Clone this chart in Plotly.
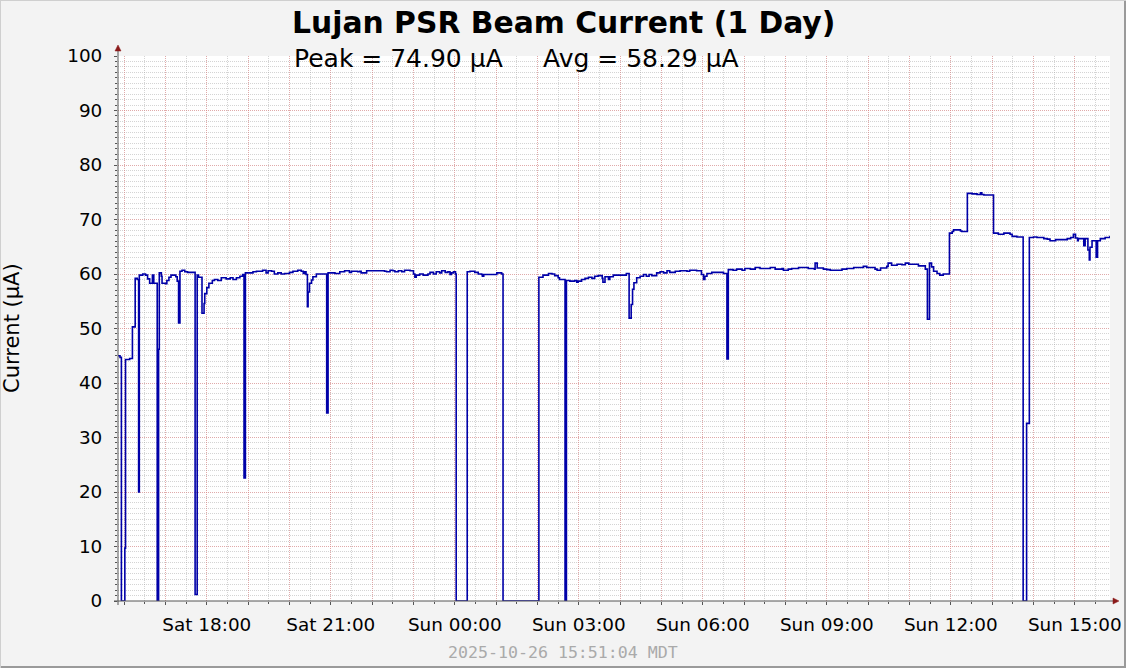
import pandas as pd
import plotly.graph_objects as go

# ---------------- data ----------------
sat = "2025-10-25 "
sun = "2025-10-26 "
timestamps = [sat + t for t in [
    "15:51", "15:54", "15:56", "16:01", "16:02", "16:08", "16:12", "16:16", "16:19", "16:21",
    "16:22", "16:27", "16:31", "16:34", "16:37", "16:41", "16:43", "16:48", "16:50", "16:51",
    "16:54", "16:55", "17:00", "17:02", "17:05", "17:08", "17:15", "17:17", "17:19", "17:21",
    "17:24", "17:28", "17:32", "17:43", "17:46", "17:48", "17:53", "17:56", "17:57", "18:00",
    "18:03", "18:08", "18:11", "18:16", "18:21", "18:28", "18:34", "18:38", "18:43", "18:48",
    "18:52", "18:54", "18:56", "19:07", "19:12", "19:21", "19:26", "19:29", "19:34", "19:38",
    "19:43", "19:48", "19:53", "20:00", "20:05", "20:12", "20:17", "20:20", "20:22", "20:24",
    "20:26", "20:27", "20:29", "20:32", "20:34", "20:39", "20:54", "20:56", "21:06", "21:13",
    "21:20", "21:27", "21:30", "21:39", "21:42", "21:44", "21:52", "22:18", "22:21", "22:26",
    "22:30", "22:33", "22:38", "22:43", "22:47", "22:55", "23:00", "23:02", "23:04", "23:09",
    "23:14", "23:21", "23:24", "23:29", "23:33", "23:38", "23:41", "23:46", "23:50", "23:53",
    "23:55", "23:58"]] + [sun + t for t in [
    "00:01", "00:02", "00:18", "00:22", "00:29", "00:34", "00:39", "00:40", "00:42", "01:01",
    "01:08", "01:10", "02:02", "02:08", "02:16", "02:21", "02:25", "02:30", "02:32", "02:40",
    "02:42", "02:47", "02:54", "02:57", "02:59", "03:04", "03:09", "03:14", "03:19", "03:23",
    "03:28", "03:34", "03:35", "03:38", "03:43", "03:45", "03:50", "04:09", "04:13", "04:16",
    "04:18", "04:20", "04:24", "04:29", "04:34", "04:38", "04:42", "04:46", "04:53", "04:58",
    "05:03", "05:08", "05:12", "05:20", "05:27", "05:37", "05:41", "05:51", "05:58", "06:01",
    "06:03", "06:06", "06:13", "06:30", "06:35", "06:37", "06:44", "06:49", "06:57", "07:01",
    "07:09", "07:16", "07:23", "07:38", "07:45", "07:55", "07:57", "08:04", "08:09", "08:19",
    "08:33", "08:42", "08:43", "08:46", "08:55", "09:00", "09:05", "09:22", "09:29", "09:39",
    "09:53", "09:58", "10:10", "10:13", "10:18", "10:27", "10:29", "10:34", "10:42", "10:49",
    "10:54", "10:59", "11:13", "11:23", "11:26", "11:29", "11:32", "11:35", "11:40", "11:44",
    "11:49", "11:58", "12:02", "12:04", "12:14", "12:16", "12:24", "12:31", "12:38", "12:43",
    "12:45", "12:48", "13:02", "13:09", "13:17", "13:26", "13:29", "13:36", "13:45", "13:50",
    "13:54", "14:00", "14:05", "14:15", "14:20", "14:24", "14:32", "14:49", "14:54", "14:58",
    "15:01", "15:04", "15:05", "15:13", "15:15", "15:19", "15:21", "15:22", "15:25", "15:31",
    "15:33", "15:37", "15:44", "15:51"]]

current_uA = [
    45.0, 44.7, 0.0, 9.7, 44.3, 44.5, 50.3, 59.2, 59.0, 20.0,
    59.8, 60.0, 59.8, 59.1, 58.3, 59.8, 58.3, 0.0, 46.2, 60.2,
    59.6, 58.3, 58.2, 58.8, 59.4, 59.8, 59.5, 58.7, 51.0, 60.5,
    60.7, 60.4, 60.3, 1.2, 59.8, 59.4, 52.8, 54.6, 56.4, 57.5,
    58.3, 58.8, 59.0, 58.8, 59.3, 59.1, 59.3, 59.0, 59.3, 59.6,
    59.9, 22.6, 60.2, 60.4, 60.5, 60.7, 60.2, 60.6, 60.5, 60.0,
    60.2, 60.0, 60.1, 60.3, 60.5, 60.7, 60.5, 60.1, 60.4, 59.9,
    54.0, 56.7, 58.3, 58.9, 59.5, 60.0, 34.5, 60.2, 60.1, 60.4,
    60.6, 60.3, 60.5, 60.4, 60.5, 60.2, 60.6, 60.5, 60.4, 60.7,
    60.6, 60.4, 60.6, 60.4, 60.7, 60.6, 60.0, 59.4, 59.8, 60.0,
    59.8, 60.0, 60.3, 60.0, 60.4, 60.2, 60.6, 60.3, 60.4, 59.9,
    60.2, 60.4,
    60.0, 0.0, 60.4, 60.5, 60.3, 60.0, 59.9, 59.6, 59.9, 60.2,
    60.0, 0.0, 59.4, 59.8, 60.1, 60.0, 59.7, 59.3, 59.0, 0.0,
    58.8, 58.7, 58.8, 58.5, 58.7, 59.0, 59.2, 59.4, 59.2, 59.6,
    59.7, 59.2, 58.5, 59.5, 59.0, 59.5, 59.8, 60.1, 51.9, 54.4,
    57.2, 58.4, 59.3, 59.6, 59.9, 59.6, 59.9, 59.7, 60.2, 60.4,
    60.2, 60.6, 60.3, 60.5, 60.6, 60.5, 60.7, 60.6, 59.9, 59.0,
    59.6, 60.1, 60.3, 60.1, 44.4, 60.8, 60.7, 60.9, 60.7, 61.0,
    60.9, 61.2, 61.0, 61.2, 60.9, 61.0, 60.7, 60.9, 61.0, 61.2,
    61.0, 60.9, 62.0, 61.1, 60.9, 60.8, 60.7, 60.9, 61.0, 61.2,
    61.4, 61.2, 60.9, 60.7, 61.1, 61.4, 62.0, 61.6, 61.8, 61.7,
    62.0, 61.8, 61.5, 60.9, 51.7, 62.0, 61.3, 60.5, 60.1, 59.8,
    60.0, 67.5, 67.8, 68.1, 67.9, 67.8, 74.8, 74.7, 74.6, 74.9,
    74.6, 74.5, 67.5, 67.3, 67.5, 67.3, 66.9, 66.8, 0.0, 32.6,
    66.7, 66.8, 66.7, 66.5, 66.4, 66.1, 66.3, 66.5, 66.7, 67.3,
    66.6, 66.1, 66.5, 65.2, 66.5, 64.4, 62.6, 64.9, 66.1, 63.1,
    66.1, 66.5, 66.7, 67.0]

title_text = "Lujan PSR Beam Current (1 Day)"
peak_uA = 74.90
avg_uA = 58.29
y_title = "Current (µA)"
stamp_text = "2025-10-26 15:51:04 MDT"
x_start = "2025-10-25 15:51:04"
x_end = "2025-10-26 15:51:04"
x_label_times = ["2025-10-25 18:00", "2025-10-25 21:00", "2025-10-26 00:00", "2025-10-26 03:00",
                 "2025-10-26 06:00", "2025-10-26 09:00", "2025-10-26 12:00", "2025-10-26 15:00"]
x_labels = ["Sat 18:00", "Sat 21:00", "Sun 00:00", "Sun 03:00",
            "Sun 06:00", "Sun 09:00", "Sun 12:00", "Sun 15:00"]
y_tick_values = [0, 10, 20, 30, 40, 50, 60, 70, 80, 90, 100]

# ---------------- layout geometry ----------------
W, H = 1126, 668
L, R, T, B = 118, 16, 56, 67
PW, PH = W - L - R, H - T - B


def px2x(px):
    return (px - L) / PW


def py2y(py):
    return (H - B - py) / PH


FONT = "DejaVu Sans"
BG = "#f3f3f3"
MAJOR = "rgba(240,120,120,0.45)"
MINOR = "rgba(160,160,160,0.45)"
DOTS = "1px,1px"
AXIS = "#555555"
ARROW = "#8b1a1a"
LINE = "#0000a8"

# hourly major grid, labels every 3 hours
hours = pd.date_range("2025-10-25 16:00", "2025-10-26 15:00", freq="1h")
label_map = {pd.Timestamp(t): s for t, s in zip(x_label_times, x_labels)}
tickvals = [h.strftime("%Y-%m-%d %H:%M") for h in hours]
ticktext = [label_map.get(h, "") for h in hours]

fig = go.Figure()
fig.add_trace(go.Scatter(
    x=pd.to_datetime(timestamps), y=current_uA, mode="lines",
    line=dict(color=LINE, width=1.6, shape="hv"),
    hoverinfo="x+y", showlegend=False))

fig.update_layout(
    width=W, height=H, autosize=False,
    margin=dict(l=L, r=R, t=T, b=B, pad=0, autoexpand=False),
    paper_bgcolor=BG, plot_bgcolor="white",
    font=dict(family=FONT, size=18, color="black"),
    showlegend=False,
    xaxis=dict(
        type="date", range=[x_start, x_end], automargin=False,
        tickmode="array", tickvals=tickvals, ticktext=ticktext,
        showgrid=True, gridcolor=MAJOR, griddash=DOTS, gridwidth=1,
        ticks="outside", ticklen=3, tickcolor=AXIS, tickwidth=1,
        ticklabelstandoff=4,
        tickfont=dict(family=FONT, size=18.4, color="black"),
        showline=False, zeroline=False,
        minor=dict(dtick=1800000, tick0="2025-10-25 16:00", showgrid=True,
                   gridcolor=MINOR, griddash=DOTS, gridwidth=1,
                   ticks="outside", ticklen=2, tickcolor=AXIS),
    ),
    yaxis=dict(
        range=[0, 100], tickmode="array", tickvals=y_tick_values, automargin=False,
        showgrid=True, gridcolor=MAJOR, griddash=DOTS, gridwidth=1,
        ticks="outside", ticklen=3, tickcolor=AXIS, tickwidth=1,
        ticklabelstandoff=8,
        tickfont=dict(family=FONT, size=18.4, color="black"),
        showline=False, zeroline=False,
        minor=dict(dtick=1, showgrid=True, gridcolor=MINOR, griddash=DOTS,
                   gridwidth=1, ticks="outside", ticklen=2, tickcolor=AXIS),
    ),
)

shapes = [
    # axis lines
    dict(type="line", xref="paper", yref="paper", x0=0, x1=0, y0=py2y(H - B + 4), y1=py2y(49),
         line=dict(color=AXIS, width=1)),
    dict(type="line", xref="paper", yref="paper", x0=px2x(L - 4), x1=px2x(1114), y0=0, y1=0,
         line=dict(color=AXIS, width=1)),
    # arrow heads
    dict(type="path", xref="paper", yref="paper",
         path=f"M {px2x(L)} {py2y(45)} L {px2x(L-3)} {py2y(51)} L {px2x(L+3)} {py2y(51)} Z",
         fillcolor=ARROW, line=dict(color=ARROW, width=0.5)),
    dict(type="path", xref="paper", yref="paper",
         path=f"M {px2x(1119)} {py2y(H-B)} L {px2x(1113)} {py2y(H-B-3)} L {px2x(1113)} {py2y(H-B+3)} Z",
         fillcolor=ARROW, line=dict(color=ARROW, width=0.5)),
    # 3-D frame of the image
    dict(type="line", xref="paper", yref="paper", x0=px2x(0), x1=px2x(W), y0=py2y(H - 1), y1=py2y(H - 1),
         line=dict(color="#9a9a9a", width=2)),
    dict(type="line", xref="paper", yref="paper", x0=px2x(W - 1), x1=px2x(W - 1), y0=py2y(0), y1=py2y(H),
         line=dict(color="#9a9a9a", width=2)),
    dict(type="line", xref="paper", yref="paper", x0=px2x(0), x1=px2x(W), y0=py2y(0.5), y1=py2y(0.5),
         line=dict(color="#cfcfcf", width=1)),
    dict(type="line", xref="paper", yref="paper", x0=px2x(0.5), x1=px2x(0.5), y0=py2y(0), y1=py2y(H),
         line=dict(color="#cfcfcf", width=1)),
]
fig.update_layout(shapes=shapes)

ann = [
    dict(text=title_text, x=px2x(563), y=py2y(22), xanchor="center", yanchor="middle",
         font=dict(family=FONT, size=29.8, color="black", weight="bold")),
    dict(text=f"Peak = {peak_uA:.2f} µA", x=px2x(292), y=py2y(58), xanchor="left", yanchor="middle",
         font=dict(family=FONT, size=25, color="black")),
    dict(text=f"Avg = {avg_uA:.2f} µA", x=px2x(541), y=py2y(58), xanchor="left", yanchor="middle",
         font=dict(family=FONT, size=25, color="black")),
    dict(text=y_title, x=px2x(12), y=py2y(328), xanchor="center", yanchor="middle", textangle=-90,
         font=dict(family=FONT, size=21, color="black")),
    dict(text=stamp_text, x=px2x(563), y=py2y(652), xanchor="center", yanchor="middle",
         font=dict(family="DejaVu Sans Mono", size=16.6, color="#aaaaaa")),
]
for a in ann:
    a.update(xref="paper", yref="paper", showarrow=False)
fig.update_layout(annotations=ann)

fig.write_html(
    "out.html",
    config={"displayModeBar": False},
    post_script="document.body.style.margin='0';document.body.style.overflow='hidden';",
)
